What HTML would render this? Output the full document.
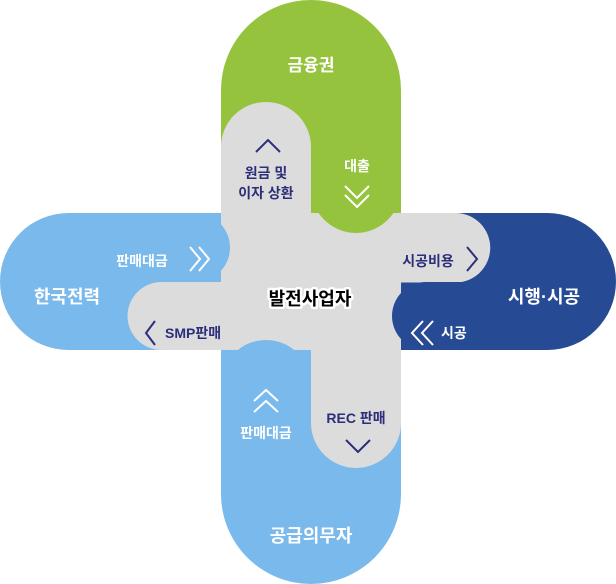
<!DOCTYPE html>
<html><head><meta charset="utf-8"><style>
html,body{margin:0;padding:0;background:#fff;width:616px;height:584px;overflow:hidden}
text{font-family:"Liberation Sans","Noto Sans CJK KR",sans-serif;font-weight:bold}
</style></head><body>
<svg width="616" height="584" viewBox="0 0 616 584" xmlns="http://www.w3.org/2000/svg">
<!-- outer pills -->
<path d="M221 90 A90 90 0 0 1 401 90 V240 H221 Z" fill="#96c33d"/>
<path d="M230 213 H68.5 A68.5 68.5 0 0 0 68.5 350 H230 Z" fill="#7ab9ec"/>
<path d="M390 213 H547.5 A68.5 68.5 0 0 1 547.5 350 H390 Z" fill="#274a94"/>
<path d="M221 340 V494 A90 90 0 0 0 401 494 V340 Z" fill="#7ab9ec"/>
<!-- gray center -->
<path d="M221 147 A45 45 0 0 1 311 147 V213 H401 V213 H455.5 A34.75 34.75 0 0 1 455.5 282.5 H401 V423 A45 45 0 0 1 311 423 V350 H161.5 A34 34 0 0 1 161.5 282 H221 Z" fill="#dcdcdc"/>
<!-- lobes -->
<path d="M311 90 V188 A45 45 0 0 0 401 188 V90 Z" fill="#96c33d"/>
<path d="M68 213 H195.5 A34.5 34.5 0 0 1 195.5 282 H68 Z" fill="#7ab9ec"/>
<path d="M548 282 H426 A34 34 0 0 0 426 350 H548 Z" fill="#274a94"/>
<path d="M221 494 V385 A45 45 0 0 1 311 385 V494 Z" fill="#7ab9ec"/>
<!-- labels -->
<g text-anchor="middle">
<text x="311" y="71" font-size="17" fill="#fff">금융권</text>
<text x="266" y="178" font-size="14" fill="#2c2e7a">원금 및</text>
<text x="266" y="198" font-size="14" fill="#2c2e7a">이자 상환</text>
<text x="357" y="171" font-size="14" fill="#fff">대출</text>
<text x="142" y="266" font-size="14" fill="#fff">판매대금</text>
<text x="67" y="303" font-size="18" fill="#fff">한국전력</text>
<text x="428" y="266" font-size="14" fill="#2c2e7a">시공비용</text>
<text x="544" y="303" font-size="18" fill="#fff">시행·시공</text>
<text x="266" y="438" font-size="14" fill="#fff">판매대금</text>
<text x="356" y="423" font-size="14" fill="#2c2e7a">REC 판매</text>
<text x="311" y="542" font-size="18" fill="#fff">공급의무자</text>
<text x="310" y="305" font-size="18" fill="#000" stroke="#fff" stroke-width="5" paint-order="stroke" stroke-linejoin="round">발전사업자</text>
</g>
<text x="165" y="338" font-size="14" fill="#2c2e7a">SMP판매</text>
<text x="441" y="338" font-size="14" fill="#fff">시공</text>
<!-- chevrons -->
<g fill="none" stroke-width="2" stroke-linejoin="miter">
<path d="M256 152 L268 140 L280 152" stroke="#2c2e7a"/>
<path d="M345 186 L357 198 L369 186 M345 195 L357 207 L369 195" stroke="#fff"/>
<path d="M190 247 L200 259 L190 271 M199 247 L209 259 L199 271" stroke="#fff"/>
<path d="M467 247 L477 259 L467 271" stroke="#2c2e7a"/>
<path d="M155 321 L146 333 L155 345" stroke="#2c2e7a"/>
<path d="M423 321 L412 333 L423 345 M433 321 L422 333 L433 345" stroke="#fff"/>
<path d="M254 401 L266 390 L278 401 M254 412 L266 401 L278 412" stroke="#fff"/>
<path d="M346 440 L358 452 L370 440" stroke="#2c2e7a"/>
</g>
</svg>
</body></html>
